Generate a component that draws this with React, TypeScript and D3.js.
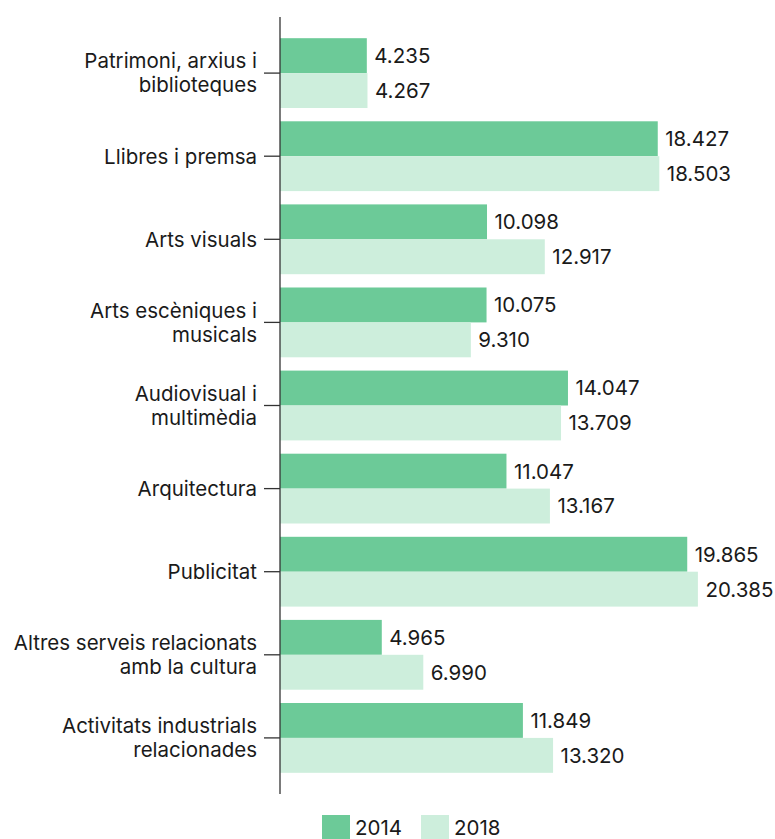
import { scaleBand, scaleLinear, format } from 'd3'

const categories = [
  ['Patrimoni, arxius i', 'biblioteques'],
  ['Llibres i premsa'],
  ['Arts visuals'],
  ['Arts escèniques i', 'musicals'],
  ['Audiovisual i', 'multimèdia'],
  ['Arquitectura'],
  ['Publicitat'],
  ['Altres serveis relacionats', 'amb la cultura'],
  ['Activitats industrials', 'relacionades'],
]
const values2014 = [4.235, 18.427, 10.098, 10.075, 14.047, 11.047, 19.865, 4.965, 11.849]
const values2018 = [4.267, 18.503, 12.917, 9.31, 13.709, 13.167, 20.385, 6.99, 13.32]
const seriesNames = ['2014', '2018']
const seriesColors = ['#6cca98', '#cdeedc']

const SVG_WIDTH = 775
const SVG_HEIGHT = 839
const AXIS_X = 280
const AXIS_TOP = 17
const AXIS_BOTTOM = 794
const FONT = 'Inter, "Open Sans", sans-serif'
const FONT_SIZE = 20.5

const fmt = (v: number) => format('.3f')(v)

export default function App() {
  const y = scaleBand<number>()
    .domain(categories.map((_, i) => i))
    .range([AXIS_TOP, AXIS_BOTTOM])
    .paddingInner(0.16)
    .paddingOuter(0.255)
  const x = scaleLinear().domain([0, 22]).range([AXIS_X, AXIS_X + 451])
  const barH = y.bandwidth() / 2
  const series = [values2014, values2018]

  return (
    <svg
      width={SVG_WIDTH}
      height={SVG_HEIGHT}
      style={{ position: 'absolute', left: 0, top: 0 }}
      fontFamily={FONT}
    >
      {categories.map((lines, i) => {
        const y0 = y(i) ?? 0
        const mid = y0 + barH
        return (
          <g key={i}>
            {series.map((vals, s) => (
              <g key={s}>
                <rect
                  x={x(0)}
                  y={y0 + s * barH}
                  width={x(vals[i]) - x(0)}
                  height={barH}
                  fill={seriesColors[s]}
                />
                <text
                  x={x(vals[i]) + 7.5}
                  y={y0 + s * barH + barH / 2}
                  dy="0.36em"
                  fontSize={FONT_SIZE}
                  fill="#1a1a1a"
                >
                  {fmt(vals[i])}
                </text>
              </g>
            ))}
            <line x1={AXIS_X - 16} x2={AXIS_X} y1={mid} y2={mid} stroke="#333" strokeWidth={1.3} />
            {lines.map((t, k) => (
              <text
                key={k}
                x={AXIS_X - 23}
                y={mid + (k - (lines.length - 1) / 2) * 24}
                dy="0.36em"
                textAnchor="end"
                fontSize={FONT_SIZE}
                fill="#1a1a1a"
              >
                {t}
              </text>
            ))}
          </g>
        )
      })}
      <line x1={AXIS_X} x2={AXIS_X} y1={AXIS_TOP} y2={AXIS_BOTTOM} stroke="#333" strokeWidth={1.3} />
      {seriesNames.map((name, s) => (
        <g key={name} transform={`translate(${322 + s * 99}, 815)`}>
          <rect width={28} height={24} fill={seriesColors[s]} />
          <text x={33} y={13} dy="0.36em" fontSize={FONT_SIZE} fill="#1a1a1a">
            {name}
          </text>
        </g>
      ))}
    </svg>
  )
}
